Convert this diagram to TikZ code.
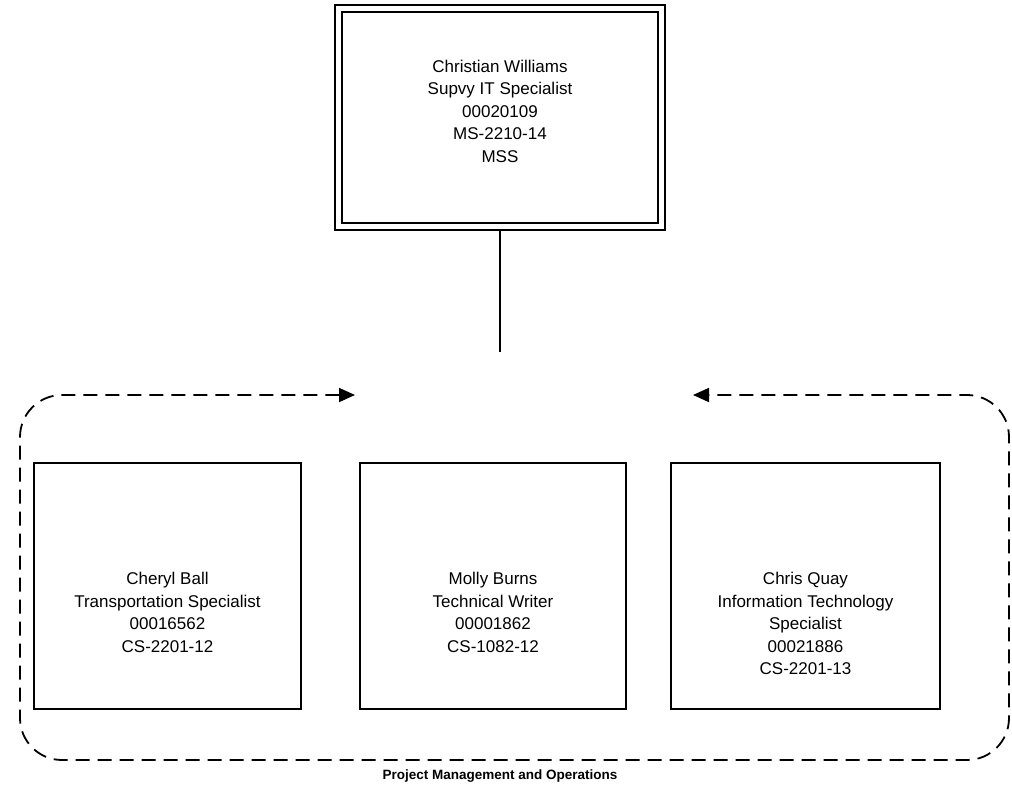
\documentclass[tikz,border=0pt]{standalone}
\usepackage{fontspec}
\setmainfont{Liberation Sans}
\usetikzlibrary{arrows.meta,positioning,calc}

\begin{document}
\begin{tikzpicture}[x=1pt, y=-1pt,
    chief/.style={rectangle, draw, line width=1.8pt, double, double distance=4.5pt, minimum width=323pt, minimum height=218pt},
    person/.style={rectangle, draw, line width=1.8pt, minimum height=246pt, inner sep=0pt},
    info/.style={align=center, inner sep=0pt, font=\fontsize{17}{22.5}\selectfont},
    group/.style={line width=1.8pt, dash pattern=on 14pt off 8pt, rounded corners=42pt}
]
    \useasboundingbox (0,0) rectangle (1012,787);

    \node[chief] (williams) at (500,117.5) {};
    \node[info] (williamstext) at (500,111) {
        Christian Williams\\
        Supvy IT Specialist\\
        00020109\\
        MS-2210-14\\
        MSS
    };
    \coordinate (hub) at (500,352);
    \draw[line width=1.8pt, shorten <=4pt] (williams.south) -- (hub);

    % staff boxes
    \node[person, minimum width=267pt] (ball) at (167.5,586) {};
    \node[person, minimum width=266pt] (burns) at (493,586) {};
    \node[person, minimum width=269pt] (quay) at (805.5,586) {};

    \node[info, below=110pt of ball.north] (balltext) {
        Cheryl Ball\\
        Transportation Specialist\\
        00016562\\
        CS-2201-12
    };
    \node[info, below=110pt of burns.north] (burnstext) {
        Molly Burns\\
        Technical Writer\\
        00001862\\
        CS-1082-12
    };
    \node[info, below=110pt of quay.north] (quaytext) {
        Chris Quay\\
        Information Technology\\
        Specialist\\
        00021886\\
        CS-2201-13
    };

    % group border
    \coordinate (inleft) at (355,395);
    \coordinate (inright) at (693,395);
    \draw[group, {Triangle[length=16pt,width=14pt]}-{Triangle[length=16pt,width=14pt]}]
        (inleft) -- (20,395) -- (20,760) -- (1009,760) -- (1009,395) -- (inright);
    \node[font=\bfseries\fontsize{13.5}{16}\selectfont] (pmo) at (500,776) {Project Management and Operations};
\end{tikzpicture}
\end{document}
